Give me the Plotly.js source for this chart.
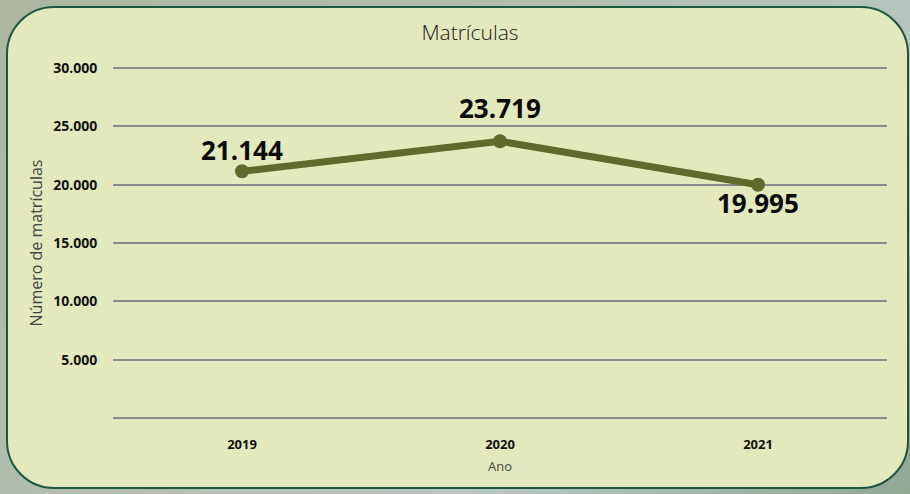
<!DOCTYPE html>
<html>
<head>
<meta charset="utf-8">
<script src="https://cdn.plot.ly/plotly-3.0.1.min.js"></script>
<style>
  html, body { margin:0; padding:0; }
  #wrap { position:relative; width:910px; height:494px; overflow:hidden;
    background: linear-gradient(135deg, #adb5a1 0%, #b3bfb2 45%, #b6c6c0 70%, #8ea894 100%); }
  #card { position:absolute; left:6px; top:6px; width:899px; height:479px;
    background:#e3e9bc; border:2px solid #1d5540; border-radius:48px; }
  #chart { position:absolute; left:0; top:0; width:910px; height:494px; }
</style>
</head>
<body>
<div id="wrap"><div id="card"></div><div id="chart"></div></div>
<script>
const years = ['2019', '2020', '2021'];
const matriculas = [21144, 23719, 19995];
const labels = ['21.144', '23.719', '19.995'];
const labelShift = [21, 33, -18];
const tickVals = [0, 5000, 10000, 15000, 20000, 25000, 30000];
const tickText = ['', '5.000', '10.000', '15.000', '20.000', '25.000', '30.000'];

const trace = {
  x: years, y: matriculas, type: 'scatter', mode: 'lines+markers',
  line: { color: '#5f6a2d', width: 7 },
  marker: { color: '#5f6a2d', size: 14 },
  hoverinfo: 'skip'
};

const annotations = years.map((yr, i) => ({
  x: i, y: matriculas[i], xref: 'x', yref: 'y',
  text: labels[i], showarrow: false, yshift: labelShift[i],
  xanchor: 'center', yanchor: 'middle',
  font: { family: 'Open Sans, sans-serif', size: 26, color: '#0a0a0a', weight: 'bold' }
}));

const layout = {
  width: 910, height: 494,
  paper_bgcolor: 'rgba(0,0,0,0)', plot_bgcolor: 'rgba(0,0,0,0)',
  margin: { l: 113, r: 23, t: 66, b: 74 },
  showlegend: false,
  title: { text: 'Matrículas', x: 470/910, xref: 'container', xanchor: 'center',
    y: 1 - 33/494, yref: 'container', yanchor: 'middle',
    font: { family: 'Open Sans, sans-serif', size: 21, color: '#1a1a1a', weight: 300 } },
  xaxis: {
    type: 'category', range: [-0.5, 2.5], showgrid: false, zeroline: false, showline: false,
    ticks: 'outside', ticklen: 12, tickcolor: 'rgba(0,0,0,0)',
    tickfont: { family: 'Open Sans, sans-serif', size: 13, color: '#111', weight: 'bold' },
    title: { text: 'Ano', standoff: 10, font: { family: 'Open Sans, sans-serif', size: 13, color: '#444' } }
  },
  yaxis: {
    range: [-170, 30170], tickvals: tickVals, ticktext: tickText,
    showgrid: true, gridcolor: '#8a8a8a', gridwidth: 2, zeroline: false, showline: false,
    ticks: 'outside', ticklen: 12, tickcolor: 'rgba(0,0,0,0)',
    tickfont: { family: 'Open Sans, sans-serif', size: 14, color: '#111', weight: 'bold' },
    title: { text: 'Número de matrículas', standoff: 6, font: { family: 'Open Sans, sans-serif', size: 16, color: '#444' } }
  },
  annotations: annotations
};

Plotly.newPlot('chart', [trace], layout, { displayModeBar: false, staticPlot: true });
</script>
</body>
</html>
